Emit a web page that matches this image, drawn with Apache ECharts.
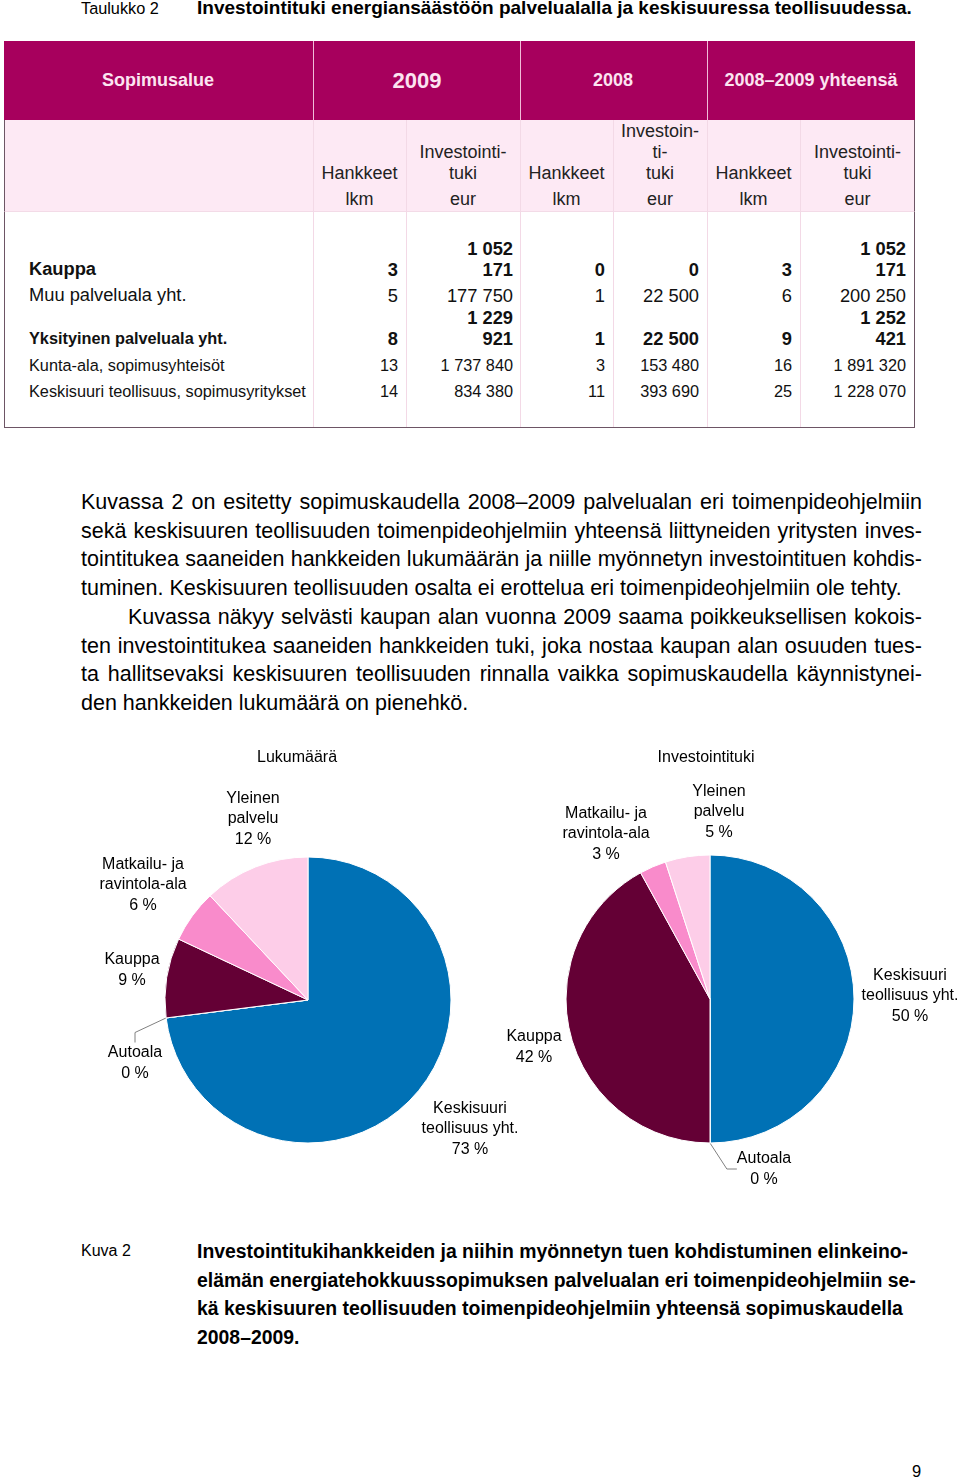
<!DOCTYPE html>
<html lang="fi">
<head>
<meta charset="UTF-8">
<title>Kuva 2</title>
<style>
  body { margin: 0; background: #fff; font-family: "Liberation Sans", Arial, sans-serif; color: #000; }
  #page { position: relative; width: 960px; height: 1479px; overflow: hidden; }
  .t { position: absolute; white-space: nowrap; }
  .j { position: absolute; white-space: nowrap; text-align: justify; text-align-last: justify; }
</style>
</head>
<body>
<div id="page">
  <div id="main" style="position:absolute;left:0;top:730px;width:960px;height:480px;"></div>
</div>

<script src="https://cdn.jsdelivr.net/npm/echarts@6/dist/echarts.min.js"></script>
<script>
// ---- taulukon tiedot ----
var rowLabels = ['Kauppa', 'Muu palveluala yht.', 'Yksityinen palveluala yht.', 'Kunta-ala, sopimusyhteisöt', 'Keskisuuri teollisuus, sopimusyritykset'];
var hankkeet2009 = ['3', '5', '8', '13', '14'];
var tuki2009 = ['1 052 171', '177 750', '1 229 921', '1 737 840', '834 380'];
var hankkeet2008 = ['0', '1', '1', '3', '11'];
var tuki2008 = ['0', '22 500', '22 500', '153 480', '393 690'];
var hankkeetYht = ['3', '6', '9', '16', '25'];
var tukiYht = ['1 052 171', '200 250', '1 252 421', '1 891 320', '1 228 070'];

// ---- kuvan tiedot ----
var categories = ['Keskisuuri\nteollisuus yht.', 'Autoala', 'Kauppa', 'Matkailu- ja\nravintola-ala', 'Yleinen\npalvelu'];
var lukumaara = [73, 0, 9, 6, 12];
var investointituki = [50, 0, 42, 3, 5];

var colors = ['#0071b5', '#999999', '#640035', '#f98bcb', '#fdcde8'];

var page = document.getElementById('page');
function add(html, css, cls) {
  var d = document.createElement('div');
  d.className = cls || 't';
  d.style.cssText = css;
  d.innerHTML = html;
  page.appendChild(d);
  return d;
}

// otsikko
add('Taulukko 2', 'left:81px;top:-1px;font-size:16.3px;line-height:18px;');
add('<b>Investointituki energiansäästöön palvelualalla ja keskisuuressa teollisuudessa.</b>', 'left:197px;top:-2px;font-size:19px;line-height:20px;');

// taulukon taustat
add('', 'left:4px;top:41px;width:911px;height:79px;background:#a7005d;');
add('', 'left:4px;top:120px;width:909px;height:91px;background:#fde9f4;border-left:1.5px solid #6d5565;border-right:1.5px solid #6d5565;');
add('', 'left:4px;top:211px;width:909px;height:215px;border:1.5px solid #6d5565;border-top:1px solid #f3dbe7;');

var colX = [313, 406, 520, 613, 707, 800, 915];
[313, 520, 707].forEach(function (x) {
  add('', 'left:' + x + 'px;top:41px;width:1px;height:79px;background:#f1bcd8;');
});
colX.slice(0, 6).forEach(function (x) {
  add('', 'left:' + x + 'px;top:120px;width:1px;height:307px;background:#f3d9e6;');
});

// ylätunnisteet
function centerText(txt, cx, cy, size, w, extra) {
  add(txt, 'left:' + (cx - w / 2) + 'px;width:' + w + 'px;top:' + (cy - size * 0.6) + 'px;line-height:' + (size * 1.2) + 'px;font-size:' + size + 'px;text-align:center;' + (extra || ''));
}
var hcol = 'color:#fce4f1;font-weight:bold;';
centerText('Sopimusalue', 158, 81, 18, 300, hcol);
centerText('2009', 417, 81, 22, 200, hcol);
centerText('2008', 613, 81, 18, 180, hcol);
centerText('2008–2009 yhteensä', 811, 81, 18, 200, hcol);

var subHead = [
  ['Hankkeet', 'lkm'],
  ['Investointi-', 'tuki', 'eur'],
  ['Hankkeet', 'lkm'],
  ['Investoin-', 'ti-', 'tuki', 'eur'],
  ['Hankkeet', 'lkm'],
  ['Investointi-', 'tuki', 'eur']
];
var subY = [200, 174, 153, 132];
subHead.forEach(function (lines, c) {
  var cx = (colX[c] + colX[c + 1]) / 2;
  lines.forEach(function (s, i) {
    var k = lines.length - 1 - i;
    centerText(s, cx, subY[k], 18, 110, 'color:#222;');
  });
});

// rivit
var rowY = [269, 295, 338, 365, 391];
var rowBold = [true, false, true, false, false];
var labelSize = [18.3, 18.3, 16.3, 16.3, 16.3];
var numSize = [18.3, 18.3, 18.3, 16.3, 16.3];
var numRight = [398, 513, 605, 699, 792, 906];
var cols = [hankkeet2009, tuki2009, hankkeet2008, tuki2008, hankkeetYht, tukiYht];

rowLabels.forEach(function (lab, r) {
  var w = rowBold[r] ? 'font-weight:bold;' : '';
  add(lab, 'left:29px;top:' + (rowY[r] - 11) + 'px;line-height:22px;font-size:' + labelSize[r] + 'px;color:#111;' + w);
  cols.forEach(function (arr, c) {
    var s = arr[r];
    var lines = [s];
    if (rowBold[r] && s.length > 7) {
      var k = s.lastIndexOf(' ');
      lines = [s.slice(0, k), s.slice(k + 1)];
    }
    var lh = 21;
    var top = rowY[r] - lh / 2 - (lines.length - 1) * lh;
    add(lines.join('<br>'), 'right:' + (960 - numRight[c]) + 'px;top:' + top + 'px;line-height:' + lh + 'px;font-size:' + numSize[r] + 'px;text-align:right;color:#111;' + w);
  });
});

// leipäteksti
var para = [
  'Kuvassa 2 on esitetty sopimuskaudella 2008–2009 palvelualan eri toimenpideohjelmiin',
  'sekä keskisuuren teollisuuden toimenpideohjelmiin yhteensä liittyneiden yritysten inves-',
  'tointitukea saaneiden hankkeiden lukumäärän ja niille myönnetyn investointituen kohdis-',
  'tuminen. Keskisuuren teollisuuden osalta ei erottelua eri toimenpideohjelmiin ole tehty.',
  'Kuvassa näkyy selvästi kaupan alan vuonna 2009 saama poikkeuksellisen kokois-',
  'ten investointitukea saaneiden hankkeiden tuki, joka nostaa kaupan alan osuuden tues-',
  'ta hallitsevaksi keskisuuren teollisuuden rinnalla vaikka sopimuskaudella käynnistynei-',
  'den hankkeiden lukumäärä on pienehkö.'
];
para.forEach(function (s, i) {
  var y = 502 + i * 28.7;
  var left = i === 4 ? 128 : 81;
  var last = (i === 3 || i === 7);
  add(s, 'left:' + left + 'px;width:' + (922 - left) + 'px;top:' + (y - 14) + 'px;line-height:28px;font-size:21.5px;', last ? 't' : 'j');
});

// kuvateksti
add('Kuva 2', 'left:81px;top:' + (1251 - 10) + 'px;line-height:20px;font-size:16px;');
var caption = [
  'Investointitukihankkeiden ja niihin myönnetyn tuen kohdistuminen elinkeino-',
  'elämän energiatehokkuussopimuksen palvelualan eri toimenpideohjelmiin se-',
  'kä keskisuuren teollisuuden toimenpideohjelmiin yhteensä sopimuskaudella',
  '2008–2009.'
];
caption.forEach(function (s, i) {
  add(s, 'left:197px;top:' + (1251 + i * 28.7 - 11) + 'px;line-height:22px;font-size:19.4px;font-weight:bold;');
});
add('9', 'left:912px;top:1461px;line-height:20px;font-size:16.5px;');

// ---- piirakat ----
var leftLabelPos = [[470, 399], [135, 333], [132, 240], [143, 155], [253, 89]];
var rightLabelPos = [[910, 266], [764, 439], [534, 317], [606, 104], [719, 82]];

function buildData(values) {
  return values.map(function (v, i) {
    return {
      name: categories[i],
      value: v,
      itemStyle: { color: colors[i] },
      labelLine: { show: v === 0 }
    };
  });
}

function pieSeries(values, center, radius, pos) {
  return {
    type: 'pie',
    center: center,
    radius: radius,
    startAngle: 90,
    clockwise: true,
    avoidLabelOverlap: false,
    data: buildData(values),
    itemStyle: { borderColor: '#fff', borderWidth: 1 },
    label: {
      show: true,
      position: 'outside',
      color: '#000',
      fontSize: 16,
      lineHeight: 20.5,
      fontFamily: 'Liberation Sans, Arial, sans-serif',
      align: 'center',
      formatter: function (p) { return p.name + '\n' + p.value + ' %'; }
    },
    labelLine: { show: false, length: 12, length2: 10, lineStyle: { color: '#808080', width: 1 } },
    labelLayout: function (p) {
      var q = pos[p.dataIndex];
      return { x: q[0], y: q[1], align: 'center', verticalAlign: 'middle' };
    },
    emphasis: { disabled: true }
  };
}

var myChart = echarts.init(document.getElementById('main'));
myChart.setOption({
  animation: false,
  graphic: [
    { type: 'text', x: 297, y: 28, style: { text: 'Lukumäärä', fontSize: 16, fontFamily: 'Liberation Sans, Arial, sans-serif', fill: '#000', align: 'center', verticalAlign: 'middle' } },
    { type: 'text', x: 706, y: 28, style: { text: 'Investointituki', fontSize: 16, fontFamily: 'Liberation Sans, Arial, sans-serif', fill: '#000', align: 'center', verticalAlign: 'middle' } }
  ],
  series: [
    pieSeries(lukumaara, [308, 270], 143, leftLabelPos),
    pieSeries(investointituki, [710, 269], 144, rightLabelPos)
  ]
});
</script>
</body>
</html>
